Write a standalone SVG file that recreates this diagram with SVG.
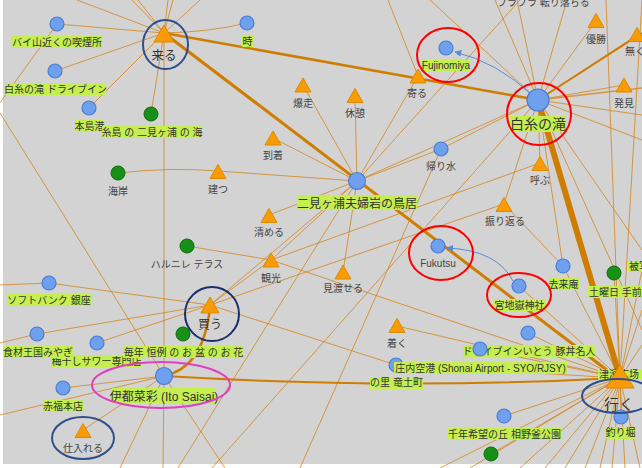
<svg xmlns="http://www.w3.org/2000/svg" width="642" height="468" viewBox="0 0 642 468">
<defs>
<style>
.e{stroke:#d4800f;stroke-opacity:.75;stroke-width:1;fill:none}
.th{stroke:#cf7d00;fill:none}
.ba{stroke:#5b8ad6;stroke-width:1;fill:none}
.tri{fill:#f89b05;stroke:#dd8a00;stroke-width:1}
.bc{fill:#6fa0ee;stroke:#4a7cd4;stroke-width:1.2}
.gc{fill:#179017;stroke:#0b6b0b;stroke-width:1}
.lb{fill:#c5ee4f}
.lt{font-family:"Liberation Sans","Noto Sans CJK JP",sans-serif;font-size:10px;fill:#333;text-anchor:middle}
.gt{font-family:"Liberation Sans","Noto Sans CJK JP",sans-serif;font-size:10px;fill:#444;text-anchor:middle}
.ring{fill:none;stroke-width:2}
</style>
<path id="t" class="tri" d="M0,-7 L8,7 L-8,7Z"/>
<marker id="ah" viewBox="0 0 10 10" refX="9" refY="5" markerWidth="7" markerHeight="7" orient="auto"><path d="M0,0L10,5L0,10z" fill="#5b8ad6"/></marker>
</defs>
<rect width="642" height="468" fill="#ffffff"/>
<rect x="3" y="0" width="639" height="464" fill="#d3d3d3"/>

<g id="edges">
<path class="e" d="M164,33L57,24M164,33L55,71M164,33L89,108M164,33L151,114M164,33L164,376M164,33Q210,32 247,23M164,33L77,0M164,33L132,0M164,33L138,0M164,33L168,0M164,33L173,0M164,33L200,0M57,24L-3,107M-5,105L164,376"/>
<path class="e" d="M357,181L303,85M357,181L355,95M357,181L418,76M357,181L273,138M357,181L218,171M357,181L269,215M357,181L271,260M357,181L343,272M357,181L210,305M357,181L441,149M357,181L538,100M357,181L178,468M357,181L520,0"/>
<path class="e" d="M538,100L596,21M538,100L624,85M538,100L637,35M538,100L540,163M538,100L441,149M538,100L504,204M538,100L563,266M538,100L430,0M538,100L495,0M538,100L517,0M538,100L567,0M538,100L642,115M538,100L642,140M538,100L642,250M538,100L642,330M538,100L212,468"/>
<path class="e" d="M538,100L642,88" style="stroke-width:1.5"/>
<path class="e" d="M620,378L397,326M620,378L396,365M620,378L480,349M620,378L528,333M620,378L504,416M620,378L621,417M620,378L491,454M620,378L563,266M620,378L614,273M620,378L519,286M620,378L606,0M620,378L642,0M620,378L642,270M620,378L642,310M620,378L642,345M620,378L440,468M620,378L470,468M620,378L520,468M620,378L545,468M620,378L565,468M620,378L585,468M620,378L600,468M620,378L612,468M620,378L625,468M620,378L640,468M620,378L271,260"/>
<path class="e" d="M164,376L63,388M164,376L83,430M164,376L0,415M164,376L163,468M164,376L120,468M164,376L225,468"/>
<path class="e" d="M210,305L49,283M210,305L37,334M210,305L97,343M210,305L271,260M210,305L396,365M210,305L504,204"/>
<path class="e" d="M0,285L49,283M0,343L37,334M118,173Q170,167 218,171M187,246L271,260M271,260L540,163M504,204L563,266M418,76L388,0M441,149L300,468"/>
<path class="th" d="M164,33L620,380" stroke-width="3"/>
<path class="th" d="M164,33L538,100" stroke-width="2.5"/>
<path class="th" d="M538,100L620,378" stroke-width="6"/>
<path class="th" d="M538,100L642,33" stroke-width="2"/>
<path class="th" d="M164,376C190,370 205,350 210,308" stroke-width="2.5"/>
<path class="th" d="M164,376Q400,390 618,378" stroke-width="2"/>
<path class="ba" d="M532,95Q497,62 455,52" marker-end="url(#ah)"/>
<path class="ba" d="M513,281Q497,250 447,248" marker-end="url(#ah)"/>
</g>

<g id="n-korogari"><text class="gt" x="497" y="6" style="text-anchor:start">ブラブラ 転り落ちる</text></g>
<g id="n-bai"><circle class="bc" cx="57" cy="24" r="7"/><rect class="lb" x="12" y="36" width="90" height="12"/><text class="lt" x="57" y="46">バイ山近くの喫煙所</text></g>
<g id="n-drivein"><circle class="bc" cx="55" cy="71" r="7"/><rect class="lb" x="5" y="83" width="101" height="12"/><text class="lt" x="55.5" y="93">白糸の滝 ドライブイン</text></g>
<g id="n-honjima"><circle class="bc" cx="89" cy="108" r="7"/><rect class="lb" x="75" y="120" width="29" height="12"/><text class="lt" x="89.5" y="130">本島港</text></g>
<g id="n-itoshima"><circle class="gc" cx="151" cy="114" r="7"/><rect class="lb" x="102" y="126" width="100" height="12"/><text class="lt" x="152" y="136">糸島 の 二見ヶ浦 の 海</text></g>
<g id="n-toki"><circle class="bc" cx="247" cy="23" r="7"/><rect class="lb" x="242" y="35" width="11" height="12"/><text class="lt" x="247.5" y="45">時</text></g>
<g id="n-kuru"><path class="tri" d="M164,25L174,42L154,42Z"/><text class="gt" x="164" y="60" style="font-size:12.5px;fill:#333">来る</text></g>
<g id="n-bakuso"><use href="#t" x="303" y="85"/><text class="gt" x="303" y="107">爆走</text></g>
<g id="n-kyukei"><use href="#t" x="355" y="95.5"/><text class="gt" x="355" y="117">休憩</text></g>
<g id="n-yoru"><use href="#t" x="418" y="76"/><text class="gt" x="417" y="97">寄る</text></g>
<g id="n-toutyaku"><use href="#t" x="273" y="138"/><text class="gt" x="273" y="159">到着</text></g>
<g id="n-yusho"><use href="#t" x="596" y="20.5"/><text class="gt" x="596" y="43">優勝</text></g>
<g id="n-naku"><use href="#t" x="637" y="34.5"/><text class="gt" x="635" y="55">無く</text></g>
<g id="n-hakken"><use href="#t" x="624" y="85"/><text class="gt" x="624" y="107">発見</text></g>
<g id="n-fujinomiya"><circle class="bc" cx="446" cy="48" r="7"/><rect class="lb" x="422" y="60" width="48" height="11"/><text class="lt" x="446" y="69">Fujinomiya</text></g>
<g id="n-shiraito"><circle class="bc" cx="538" cy="100" r="11"/><rect class="lb" x="510" y="116" width="56" height="16"/><text class="lt" x="538" y="129" style="font-size:14px">白糸の滝</text></g>
<g id="n-kaerimizu"><circle class="bc" cx="441" cy="149" r="7"/><text class="gt" x="441" y="170">帰り水</text></g>
<g id="n-yobu"><use href="#t" x="540" y="163.5"/><text class="gt" x="540" y="184">呼ぶ</text></g>
<g id="n-furikaeru"><use href="#t" x="504" y="204.5"/><text class="gt" x="505" y="225">振り返る</text></g>
<g id="n-tatsu"><use href="#t" x="218" y="171.5"/><text class="gt" x="218" y="193">建つ</text></g>
<g id="n-kaigan"><circle class="gc" cx="118" cy="173" r="7"/><text class="gt" x="118" y="195">海岸</text></g>
<g id="n-futami"><circle class="bc" cx="357" cy="181" r="8.5"/><rect class="lb" x="297" y="195" width="120" height="15"/><text class="lt" x="357" y="208" style="font-size:12px">二見ヶ浦夫婦岩の鳥居</text></g>
<g id="n-kiyomeru"><use href="#t" x="269" y="215.5"/><text class="gt" x="269" y="236">清める</text></g>
<g id="n-harunire"><circle class="gc" cx="187" cy="246" r="7"/><text class="gt" x="187" y="268">ハルニレ テラス</text></g>
<g id="n-fukutsu"><circle class="bc" cx="438" cy="246" r="7"/><text class="gt" x="438" y="267">Fukutsu</text></g>
<g id="n-kanko"><use href="#t" x="271" y="260"/><text class="gt" x="271" y="282">観光</text></g>
<g id="n-miwataseru"><use href="#t" x="343" y="272"/><text class="gt" x="343" y="292">見渡せる</text></g>
<g id="n-hishatai"><rect class="lb" x="628" y="261" width="14" height="11"/><text class="lt" x="629" y="270" style="text-anchor:start">被写体</text></g>
<g id="n-kyoraian"><circle class="bc" cx="563" cy="266" r="7"/><rect class="lb" x="549" y="278" width="30" height="12"/><text class="lt" x="563.5" y="288">去来庵</text></g>
<g id="n-doyoubi"><circle class="gc" cx="614" cy="273" r="7"/><rect class="lb" x="588" y="286" width="54" height="12"/><text class="lt" x="589" y="296" style="text-anchor:start">土曜日 手前の</text></g>
<g id="n-softbank"><circle class="bc" cx="49" cy="283" r="7"/><rect class="lb" x="7" y="294" width="84" height="12"/><text class="lt" x="49" y="304">ソフトバンク 銀座</text></g>
<g id="n-miyajidake"><circle class="bc" cx="519" cy="286" r="7"/><rect class="lb" x="494" y="299" width="51" height="12"/><text class="lt" x="519.5" y="309">宮地嶽神社</text></g>
<g id="n-kau"><path class="tri" d="M210,297L219,313L201,313Z"/><text class="gt" x="210" y="329" style="font-size:12px;fill:#333">買う</text></g>
<g id="n-tsuku"><use href="#t" x="397" y="325.5"/><text class="gt" x="397" y="347">着く</text></g>
<g id="n-umeboshi"><circle class="bc" cx="97" cy="343" r="7"/><rect class="lb" x="52" y="355" width="89" height="12"/><text class="lt" x="96.5" y="365">梅干しサワー専門店</text></g>
<g id="n-shokuzai"><circle class="bc" cx="37" cy="334" r="7"/><rect class="lb" x="3" y="346" width="70" height="12"/><text class="lt" x="38" y="356">食材王国みやぎ</text></g>
<g id="n-maitoshi"><circle class="gc" cx="183" cy="334" r="7"/><rect class="lb" x="123" y="346" width="121" height="12"/><text class="lt" x="183.5" y="356">毎年 恒例 の お 盆 の お 花</text></g>
<g id="n-itou"><rect class="lb" x="463" y="345" width="132" height="12"/><text class="lt" x="529" y="355">ドライブインいとう 豚丼名人</text><circle class="bc" cx="528" cy="333" r="7"/></g>
<g id="n-nosato"><circle class="bc" cx="396" cy="365" r="7"/><rect class="lb" x="370" y="377" width="53" height="12"/><text class="lt" x="396.5" y="386">の里 竜土町</text></g>
<g id="n-shonai"><rect class="lb" x="394" y="362" width="173" height="12"/><text class="lt" x="480.5" y="372">庄内空港 (Shonai Airport - SYO/RJSY)</text><circle class="bc" cx="480" cy="349" r="7"/></g>
<g id="n-ito"><circle class="bc" cx="164" cy="376" r="8.5"/><rect class="lb" x="112" y="388" width="104" height="15"/><text class="lt" x="164" y="401" style="font-size:12px">伊都菜彩 (Ito Saisai)</text></g>
<g id="n-akafuku"><circle class="bc" cx="63" cy="388" r="7"/><rect class="lb" x="43" y="400" width="40" height="12"/><text class="lt" x="63" y="410">赤福本店</text></g>
<g id="n-tsunami"><rect class="lb" x="598" y="369" width="44" height="11"/><text class="lt" x="599" y="378" style="text-anchor:start">津濱広场 ...</text></g>
<g id="n-iku"><path class="tri" d="M620,365L634,388L606,388Z"/><text class="gt" x="619" y="410" style="font-size:15px;fill:#333">行く</text></g>
<g id="n-tsurubori"><circle class="bc" cx="621" cy="417" r="7"/><rect class="lb" x="605" y="427" width="31" height="12"/><text class="lt" x="620.5" y="436">釣り堀</text></g>
<g id="n-sennen"><circle class="bc" cx="504" cy="416" r="7"/><rect class="lb" x="448" y="428" width="113" height="12"/><text class="lt" x="504.5" y="438">千年希望の丘 相野釜公園</text></g>
<g id="n-greenbottom"><circle class="gc" cx="491" cy="454" r="7"/></g>
<g id="n-shiireru"><use href="#t" x="83" y="430.5"/><text class="gt" x="83" y="452">仕入れる</text></g>

<g id="highlights">
<ellipse class="ring" cx="165.5" cy="44.5" rx="22.5" ry="24.5" stroke="#2d4f8e"/>
<circle class="ring" cx="212" cy="314" r="27" stroke="#1a2e6e"/>
<ellipse class="ring" cx="83" cy="438" rx="31" ry="21" stroke="#2d4f8e"/>
<ellipse class="ring" cx="618" cy="396" rx="36" ry="17" stroke="#2d4f8e"/>
<ellipse class="ring" cx="539" cy="114" rx="32" ry="31" stroke="#ff0000"/>
<ellipse class="ring" cx="448" cy="55" rx="31" ry="27" stroke="#ff0000"/>
<ellipse class="ring" cx="441" cy="253" rx="32" ry="27" stroke="#ff0000"/>
<ellipse class="ring" cx="519" cy="295" rx="32" ry="22" stroke="#ff0000"/>
<ellipse class="ring" cx="161" cy="385" rx="69" ry="23" stroke="#e040c0"/>
</g>
</svg>
